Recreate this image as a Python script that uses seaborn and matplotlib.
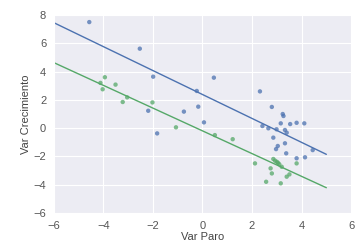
import numpy as np
import pandas as pd
import matplotlib
matplotlib.use("Agg")
import matplotlib.pyplot as plt
import seaborn as sns

# points (Var Paro, Var Crecimiento)
blue_x = [-4.57, -2.53, -1.99, -0.23, -0.17, -0.75, -2.19, -1.83, 0.06, 0.46,
          2.32, 2.80, 3.24, 3.27, 3.16, 3.54, 3.80, 4.11, 2.42, 2.66,
          2.99, 3.33, 3.40, 2.86, 3.33, 3.04, 2.97, 3.38, 3.80, 4.14, 4.45]
blue_y = [7.50, 5.62, 3.64, 2.63, 1.52, 1.17, 1.23, -0.37, 0.41, 3.57,
          2.60, 1.50, 1.00, 0.86, 0.34, 0.29, 0.38, 0.34, 0.15, -0.01,
          -0.08, -0.13, -0.32, -0.67, -1.07, -1.26, -1.48, -1.78, -2.13, -2.06, -1.55]

green_x = [-3.94, -4.12, -3.51, -4.03, -3.04, -3.22, -2.02, -1.07, 0.50, 1.22,
           2.12, 2.86, 3.00, 3.10, 3.20, 2.75, 3.80, 3.40, 3.51, 2.80,
           2.57, 3.16, 2.93, 3.05]
green_y = [3.60, 3.20, 3.08, 2.75, 2.18, 1.85, 1.82, 0.06, -0.49, -0.78,
           -2.49, -2.18, -2.38, -2.55, -2.73, -2.84, -2.49, -3.43, -3.27, -3.20,
           -3.79, -3.90, -2.30, -2.45]

# fitted lines (intercept, slope)
blue_fit = (2.38, -0.846)
green_fit = (-0.19, -0.804)
fit_range = [-6, 5]

df = pd.DataFrame({
    "Var Paro": blue_x + green_x,
    "Var Crecimiento": blue_y + green_y,
    "serie": ["a"] * len(blue_x) + ["b"] * len(green_x),
})

sns.set_style("darkgrid", {"axes.facecolor": "#ECECF3"})
plt.rcParams["font.family"] = ["Liberation Sans", "DejaVu Sans"]
colors = ["#4C72B0", "#55A868"]

fig = plt.figure(figsize=(3.59, 2.46), dpi=100)
ax = fig.add_axes([0.150, 0.134, 0.828, 0.805])

sns.scatterplot(data=df, x="Var Paro", y="Var Crecimiento", hue="serie",
                palette=colors, s=10, alpha=0.75, linewidth=0, ax=ax, legend=False)

xs = np.array(fit_range)
for (a, b), c in zip([blue_fit, green_fit], colors):
    sns.lineplot(x=xs, y=a + b * xs, color=c, lw=1.0, ax=ax)

ax.set_xlim(-6, 6)
ax.set_ylim(-6, 8)
ax.set_xticks(range(-6, 7, 2))
ax.set_yticks(range(-6, 9, 2))
ax.tick_params(labelsize=8, colors="#555555", pad=2)
ax.set_xlabel("Var Paro", fontsize=8, color="#444444", labelpad=1)
ax.set_ylabel("Var Crecimiento", fontsize=8, color="#444444", labelpad=2)

fig.savefig("out.png", dpi=100)
